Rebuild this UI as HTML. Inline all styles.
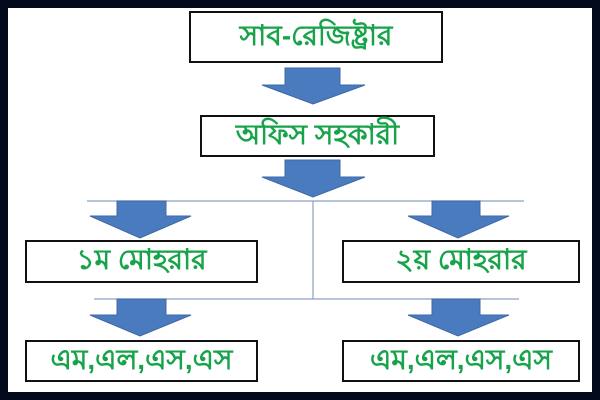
<!DOCTYPE html>
<html><head><meta charset="utf-8"><style>
html,body{margin:0;padding:0}
body{width:600px;height:400px;background:#030a1c;position:relative;overflow:hidden}
.w{position:absolute;left:8px;top:8px;width:584px;height:384px;background:#fff}
.b{position:absolute;border:2px solid #111;background:#fff;box-sizing:border-box;color:#17a34a;font-family:"Liberation Sans","Noto Sans CJK SC",sans-serif;font-size:28px;font-weight:600;display:flex;align-items:center;justify-content:center;white-space:nowrap}
svg{position:absolute;left:0;top:0}
</style></head><body>
<div class="w"></div>
<svg width="600" height="400">
<g stroke="#8aa2c4" stroke-width="1.2">
<line x1="87" y1="201" x2="524" y2="201"/>
<line x1="313" y1="201" x2="313" y2="299"/>
<line x1="94" y1="299" x2="519" y2="299"/>
</g>
<g fill="#4a7bbf" stroke="#3d68a6" stroke-width="1">
<polygon points="285,68 340,68 340,85 365,85 313,104 262,85 285,85"/>
<polygon points="285,160 340,160 340,177 365,177 313,197 262,177 285,177"/>
<polygon points="117,201 166,201 166,216 191,216 140,238 90,216 117,216"/>
<polygon points="432,201 480,201 480,216 509,216 458,238 408,216 432,216"/>
<polygon points="117,299 166,299 166,315 191,315 140,336 90,315 117,315"/>
<polygon points="432,299 480,299 480,315 509,315 458,336 408,315 432,315"/>
</g>
</svg>
<div class="b" style="left:189px;top:11px;width:254px;height:52px">সাব-রেজিষ্ট্রার</div>
<div class="b" style="left:200px;top:115px;width:235px;height:42px">অফিস সহকারী</div>
<div class="b" style="left:25px;top:240px;width:233px;height:43px">১ম মোহরার</div>
<div class="b" style="left:342px;top:240px;width:238px;height:43px">২য় মোহরার</div>
<div class="b" style="left:25px;top:340px;width:233px;height:42px">এম,এল,এস,এস</div>
<div class="b" style="left:342px;top:340px;width:238px;height:42px">এম,এল,এস,এস</div>
</body></html>
